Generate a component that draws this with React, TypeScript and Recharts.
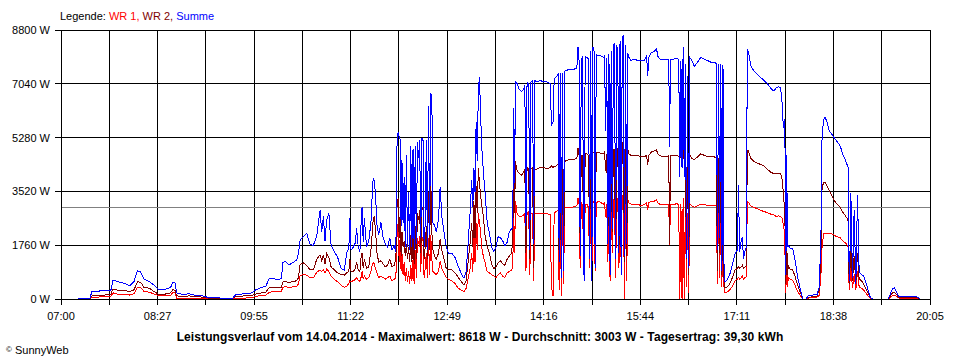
import { LineChart, Line, XAxis, YAxis, CartesianGrid, ReferenceLine } from "recharts";

// SunnyWeb daily power curve, 14.04.2014. Time = minutes after 07:00.
const FONT = "'Liberation Sans', Arial, sans-serif";

const xTickLabels = ["07:00", "08:27", "09:55", "11:22", "12:49", "14:16", "15:44", "17:11", "18:38", "20:05"];
const yTicks = [0, 1760, 3520, 5280, 7040, 8800];
const average = 3003;

// prettier-ignore
const minutes = [
  // 07:00 - 09:55
  15, 26, 28, 40, 45, 47, 52, 58, 62, 66, 69, 72, 75, 80, 85, 88, 94, 99, 101, 103,
  104.5, 110, 116, 122, 128, 133, 145, 155, 158, 166, 172, 176, 181, 185,
  // 09:55 - 11:22
  188, 191, 195, 199, 200.5, 203, 206, 210, 213, 214.5, 216, 219, 222, 225, 228,
  231, 234, 235.5, 237, 238.5, 240, 242, 244, 247, 250, 253, 256, 258, 260, 261, 262,
  // 11:22 - 12:49
  264, 266, 267, 268.5, 270, 271, 272, 273, 274, 276, 278, 280, 281, 282, 283,
  284, 285.5, 287, 289, 291, 293, 295, 297, 299, 301, 302.5, 303.5, 304.5, 305.5, 306.5,
  307.2, 308, 309, 310, 311, 312, 313, 314, 315, 316, 317, 318, 319, 320, 321,
  322, 323, 324, 325, 326, 327, 328, 329, 330, 331, 332, 333, 334, 335, 336,
  337.5, 339, 341, 342.5, 344, 346, 348,
  // 12:49 - 14:16
  350, 353, 356, 359, 362, 364, 366, 368, 369.5, 371, 372, 373, 374, 375, 376,
  377, 378, 379, 380, 381.5, 383, 385, 387, 389, 391, 393, 395, 397, 399, 401,
  403, 405, 407, 408, 409, 409.8, 410.5, 412, 414, 416, 418, 419, 420, 421, 422.5,
  423.5, 424.5, 426, 427, 428, 430, 433, 436,
  // 14:16 - 15:44
  439, 442, 443, 444.5, 445.5, 447, 449, 450, 451, 452, 453, 454, 455, 458, 462,
  466, 467, 468, 469, 470, 471, 472.5, 473.5, 475, 476.5, 477.5, 478.5, 479.5, 480.5, 481.5,
  482.5, 483.5, 486, 488, 490, 491, 492, 493, 494, 495, 496, 497, 498, 499, 500,
  501, 502, 503, 504, 505, 506, 507, 508, 509, 510, 511, 512, 513, 515, 518, 521, 524,
  // 15:44 - 17:11
  527, 529, 530, 531, 533, 536, 538, 539, 541, 545, 549, 549.8, 550.5, 554, 557,
  558, 559, 560, 561, 562, 563, 564, 565, 566, 567, 568, 570, 572, 575, 578,
  581, 584, 587, 590, 592, 593, 594, 595, 596, 597, 598, 599, 601, 603, 605, 607, 609, 611,
  // 17:11 - 18:38
  612, 613, 614.5, 615.5, 616.5, 618, 619, 620, 621, 623, 626, 629, 632, 635, 638,
  641, 644, 646, 648, 650, 651.5, 652.5, 653.5, 654, 654.8, 655.5, 656.3, 657, 659, 661,
  663, 665.5, 668, 670, 673, 675, 679, 683, 685, 686.5, 687.5, 689, 690, 692, 694, 696, 698,
  // 18:38 - 20:05
  700, 702, 704, 706, 708, 710, 711, 712, 713, 713.5, 715, 716.5, 718, 719.5, 721,
  723, 725, 727, 729, 731, 733, 747, 749, 751, 753, 755, 757, 765, 772, 774, 776,
];

// prettier-ignore
const wr1 = [
  0, 0, 60, 70, 80, 200, 150, 150, 130, 170, 390, 380, 250, 220, 150, 110, 110, 120, 210, 200,
  30, 30, 30, 30, 20, 10, 5, 5, 30, 30, 40, 80, 120, 120,

  220, 240, 240, 250, 390, 400, 380, 400, 420, 500, 760, 800, 780, 700, 690,
  870, 950, 900, 950, 850, 980, 900, 750, 640, 560, 450, 380, 420, 500, 600, 560,

  600, 640, 700, 620, 580, 700, 900, 650, 750, 650, 700, 900, 1100, 1200, 1150,
  1000, 850, 700, 750, 700, 650, 700, 750, 600, 650, 700, 2000, 2500, 1200, 2200,
  900, 1500, 800, 1200, 600, 1000, 550, 900, 500, 1100, 600, 1300, 500, 1600, 700,
  2000, 1800, 2050, 900, 2050, 1900, 700, 1000, 1500, 700, 2000, 800, 2100, 1300, 900,
  850, 800, 900, 1250, 1000, 850, 700,

  650, 600, 500, 350, 280, 240, 350, 700, 1000, 1500, 900, 2200, 1200, 2500, 1600,
  2800, 2500, 2200, 1700, 1400, 1200, 900, 850, 800, 750, 700, 800, 850, 750, 700,
  850, 900, 950, 1000, 2700, 1500, 3200, 2800, 2700, 2700, 2750, 2800, 900, 2800, 2850,
  800, 2800, 2800, 600, 2800, 2800, 2800, 2780,

  2800, 2750, 400, 100, 2800, 2850, 2900, 300, 2900, 100, 2950, 500, 3000, 3000, 3000,
  3050, 3300, 3100, 1000, 3150, 3100, 900, 3100, 3100, 3000, 1000, 3150, 800, 3200, 3150,
  900, 3150, 3200, 3150, 3100, 3150, 2700, 3100, 1200, 3200, 600, 3200, 1500, 3250, 3300,
  700, 3300, 3250, 1000, 3350, 1100, 3400, 3350, 0, 3300, 600, 3250, 3150, 3100, 3100, 3100, 3050,

  3100, 3150, 2900, 3150, 3200, 3200, 3250, 3150, 3100, 3100, 3100, 1770, 3100, 3100, 3120,
  3050, 0, 3100, 0, 3300, 0, 3100, 400, 2800, 200, 3100, 3050, 3000, 3050, 3100,
  3100, 3050, 3050, 3050, 3050, 500, 3000, 700, 3050, 400, 2950, 200, 220, 260, 340, 450, 600, 650,

  700, 650, 700, 750, 650, 700, 720, 3180, 3170, 3050, 3000, 2950, 2900, 2860, 2830,
  2780, 2750, 2700, 2720, 2700, 2650, 2400, 2200, 1500, 200, 1600, 400, 700, 650, 600,
  450, 250, 100, 0, 0, 30, 40, 60, 120, 800, 1700, 2150, 2150, 2150, 2150, 2130, 2100,

  2050, 2030, 2000, 1900, 1850, 1780, 1700, 300, 700, 1000, 350, 800, 300, 900, 400,
  350, 300, 200, 100, 20, 0, 0, 40, 120, 130, 80, 30, 25, 25, 20, 0,
];

// prettier-ignore
const wr2 = [
  0, 10, 100, 130, 160, 330, 280, 270, 250, 300, 560, 550, 380, 350, 220, 160, 160, 200, 300, 290,
  100, 90, 100, 80, 60, 30, 20, 15, 90, 100, 110, 160, 200, 230,

  360, 380, 380, 390, 560, 570, 540, 570, 600, 700, 1130, 1180, 1100, 950, 960,
  1300, 1450, 1250, 1450, 1150, 1480, 1350, 1050, 950, 850, 800, 780, 850, 900, 1300, 900,

  900, 1000, 1200, 950, 880, 1350, 1500, 1000, 1300, 1000, 1050, 1600, 2100, 2600, 2700,
  2300, 1500, 1200, 1250, 1150, 1050, 1100, 1300, 1050, 1100, 1300, 3000, 3300, 2000, 2900,
  1400, 2200, 1700, 1900, 1400, 1800, 1300, 1700, 1200, 2100, 1200, 2200, 1150, 2400, 1300,
  2800, 2600, 2900, 1500, 3000, 2950, 1300, 1700, 2400, 1300, 3500, 1600, 3950, 2200, 1600,
  1400, 1300, 1500, 1950, 1600, 1300, 1000,

  950, 950, 850, 700, 550, 450, 600, 1300, 1800, 2500, 1700, 3200, 2000, 3700, 2800,
  4300, 3800, 3400, 3100, 2700, 2100, 1700, 1500, 1150, 1000, 1050, 1200, 1250, 1150, 1100,
  1300, 1400, 1500, 1900, 4300, 2800, 4500, 4200, 4100, 4050, 4150, 4250, 1500, 4300, 4250,
  1300, 4250, 4300, 1000, 4250, 4250, 4300, 4300,

  4250, 4300, 4350, 4300, 4350, 4350, 4400, 1200, 4400, 800, 4450, 1000, 4500, 4550, 4550,
  4600, 4950, 4700, 1700, 4700, 4700, 1500, 4750, 4750, 4700, 1800, 4800, 1500, 4800, 4800,
  1600, 4800, 4800, 4750, 4750, 4800, 4200, 4750, 2000, 4800, 1100, 4850, 2200, 4900, 4900,
  1300, 4950, 4900, 1500, 5000, 2000, 5100, 5130, 1200, 5000, 1400, 4900, 4750, 4700, 4700, 4700, 4650,

  4650, 4700, 4400, 4700, 4800, 4850, 4880, 4750, 4680, 4670, 4680, 1800, 4680, 4680, 4700,
  4650, 4600, 4650, 4650, 4900, 4500, 4700, 1300, 4500, 800, 4700, 4600, 4550, 4650, 4750,
  4700, 4650, 4650, 4650, 4600, 900, 4600, 1500, 4600, 800, 4550, 360, 380, 430, 560, 750, 950, 1000,

  1050, 1000, 1050, 1100, 1000, 1050, 1080, 4870, 4850, 4600, 4500, 4450, 4400, 4350, 4250,
  4150, 4100, 4100, 4100, 4100, 3900, 3500, 3000, 2500, 500, 2000, 800, 1100, 950, 950,
  750, 450, 200, 0, 0, 60, 70, 100, 300, 1500, 3670, 3800, 3830, 3700, 3550, 3400, 3250,

  3150, 3070, 3000, 2850, 2750, 2650, 2550, 500, 1200, 1700, 600, 1400, 500, 1500, 650,
  600, 500, 350, 200, 40, 0, 0, 80, 200, 210, 130, 50, 45, 45, 40, 0,
];

// prettier-ignore
const summe = [
  0, 20, 250, 270, 280, 620, 560, 500, 430, 580, 925, 880, 650, 560, 430, 310, 320, 380, 540, 520,
  200, 150, 170, 110, 100, 50, 30, 25, 150, 170, 200, 300, 380, 420,

  660, 675, 640, 660, 1200, 1220, 1120, 1200, 1280, 1500, 1930, 2050, 2150, 1780, 1760,
  2050, 2900, 2200, 2700, 1900, 2600, 2800, 1750, 1550, 1350, 1000, 950, 1500, 1650, 2650, 1600,

  1700, 1850, 2320, 1700, 1550, 2400, 3020, 1850, 2650, 1700, 1900, 2500, 3300, 3960, 3850,
  3470, 2400, 2100, 2500, 2000, 1800, 1700, 2000, 1600, 1750, 1550, 5000, 5450, 5300, 5200,
  2400, 4550, 2500, 4000, 1700, 4700, 1700, 3500, 1600, 5000, 1700, 4900, 1600, 5000, 1800,
  5150, 4600, 5200, 2000, 5250, 5250, 1700, 2500, 5200, 1600, 6300, 2100, 6750, 6600, 2500,
  2400, 2200, 2600, 3670, 2700, 2200, 1700,

  1500, 1500, 1350, 1050, 800, 680, 900, 1950, 2800, 3900, 3000, 4300, 3500, 5800, 4500,
  6800, 7270, 6100, 5000, 4200, 3500, 2500, 2150, 1700, 1550, 1700, 2050, 2000, 1900, 1750,
  1850, 2200, 2300, 2300, 6250, 3800, 7100, 7050, 6850, 6800, 6850, 7000, 2400, 7100, 7050,
  1600, 7100, 7150, 1800, 7150, 7100, 7150, 7100,

  7100, 7050, 5700, 5800, 7200, 7250, 7350, 1200, 7380, 700, 7400, 900, 7450, 7500, 7500,
  7550, 8240, 7800, 1400, 7850, 7900, 600, 7950, 7900, 7850, 1300, 8100, 600, 8250, 8100,
  1000, 8000, 7950, 7950, 7900, 7950, 5500, 7900, 1800, 8000, 800, 8100, 2300, 8300, 8350,
  1300, 8300, 8100, 1500, 8450, 800, 8550, 8600, 1400, 8300, 1800, 8050, 7900, 7800, 7850, 7800, 7800,

  7800, 7950, 7300, 7900, 8050, 8100, 8200, 7950, 7850, 7850, 7850, 4970, 7850, 7850, 7880,
  7800, 4000, 7800, 4300, 8250, 4000, 7700, 1350, 7300, 1000, 7900, 7800, 7600, 7750, 7900,
  7850, 7800, 7750, 7750, 7700, 1600, 7700, 2000, 7700, 900, 7650, 560, 600, 700, 900, 1200, 1500, 1600,

  3730, 1550, 1900, 2030, 1300, 1600, 1700, 8150, 8100, 7650, 7450, 7350, 7250, 7150, 7050,
  6900, 6800, 6900, 6950, 6900, 6400, 5600, 5900, 5100, 800, 4700, 1700, 1750, 1650, 1650,
  1300, 700, 300, 0, 0, 100, 130, 150, 400, 2100, 5370, 5850, 5950, 5800, 5500, 5400, 5300,

  5200, 5100, 5000, 4750, 4600, 4400, 4300, 600, 1900, 3470, 700, 2900, 500, 3400, 900,
  800, 750, 550, 300, 60, 0, 0, 150, 330, 370, 200, 80, 70, 70, 60, 0,
];

const chartData = minutes.map((m, i) => ({ m, wr1: wr1[i], wr2: wr2[i], summe: summe[i] }));

// 18 grid intervals between 07:00 and 20:05, label on every second one
const span = 785;
const xTicks = Array.from({ length: 19 }, (_, i) => (i * span) / 18);

const crisp = `
  .recharts-cartesian-grid line,
  .recharts-cartesian-axis-line,
  .recharts-cartesian-axis-tick-line,
  .recharts-reference-line-line,
  .recharts-line-curve { shape-rendering: crispEdges; }
`;

export default function App() {
  return (
    <div
      style={{
        position: "absolute",
        left: 0,
        top: 0,
        width: 960,
        height: 360,
        background: "#fff",
        fontFamily: FONT,
        color: "#000",
      }}
    >
      <style>{crisp}</style>
      <LineChart
        width={960}
        height={360}
        data={chartData}
        margin={{ top: 30, right: 30, bottom: 31, left: 0 }}
      >
        <CartesianGrid stroke="#000" strokeWidth={1} />
        <XAxis
          dataKey="m"
          type="number"
          domain={[0, span]}
          ticks={xTicks}
          interval={0}
          height={30}
          stroke="#000"
          tickSize={6}
          tickMargin={7}
          tick={{ fill: "#000", fontSize: 11, fontFamily: FONT }}
          tickFormatter={(_v: number, i: number) => (i % 2 === 0 ? xTickLabels[i / 2] : "")}
        />
        <YAxis
          type="number"
          domain={[0, 8800]}
          ticks={yTicks}
          interval={0}
          width={61}
          stroke="#000"
          tickSize={6}
          tickMargin={5}
          tick={{ fill: "#000", fontSize: 11, fontFamily: FONT }}
          tickFormatter={(v: number) => `${v} W`}
        />
        <ReferenceLine y={average} stroke="#808080" strokeWidth={1} />
        <Line dataKey="wr1" type="linear" stroke="#ff0000" strokeWidth={1} dot={false} isAnimationActive={false} />
        <Line dataKey="wr2" type="linear" stroke="#800000" strokeWidth={1} dot={false} isAnimationActive={false} />
        <Line dataKey="summe" type="linear" stroke="#0000ff" strokeWidth={1} dot={false} isAnimationActive={false} />
      </LineChart>

      <div style={{ position: "absolute", left: 60, top: 10, fontSize: 11, lineHeight: "13px", whiteSpace: "nowrap" }}>
        Legende: <span style={{ color: "#ff0000" }}>WR 1,</span>{" "}
        <span style={{ color: "#800000" }}>WR 2,</span>{" "}
        <span style={{ color: "#0000ff" }}>Summe</span>
      </div>

      <div
        style={{
          position: "absolute",
          left: 0,
          width: 960,
          top: 330,
          textAlign: "center",
          fontSize: 12,
          letterSpacing: 0.1,
          fontWeight: "bold",
          lineHeight: "14px",
          whiteSpace: "nowrap",
        }}
      >
        Leistungsverlauf vom 14.04.2014 - Maximalwert: 8618 W - Durchschnitt: 3003 W - Tagesertrag: 39,30 kWh
      </div>

      <div style={{ position: "absolute", left: 6, top: 343, fontSize: 11, lineHeight: "13px", whiteSpace: "nowrap" }}>
        <span style={{ fontSize: 8, verticalAlign: "2px" }}>©</span> SunnyWeb
      </div>
    </div>
  );
}
